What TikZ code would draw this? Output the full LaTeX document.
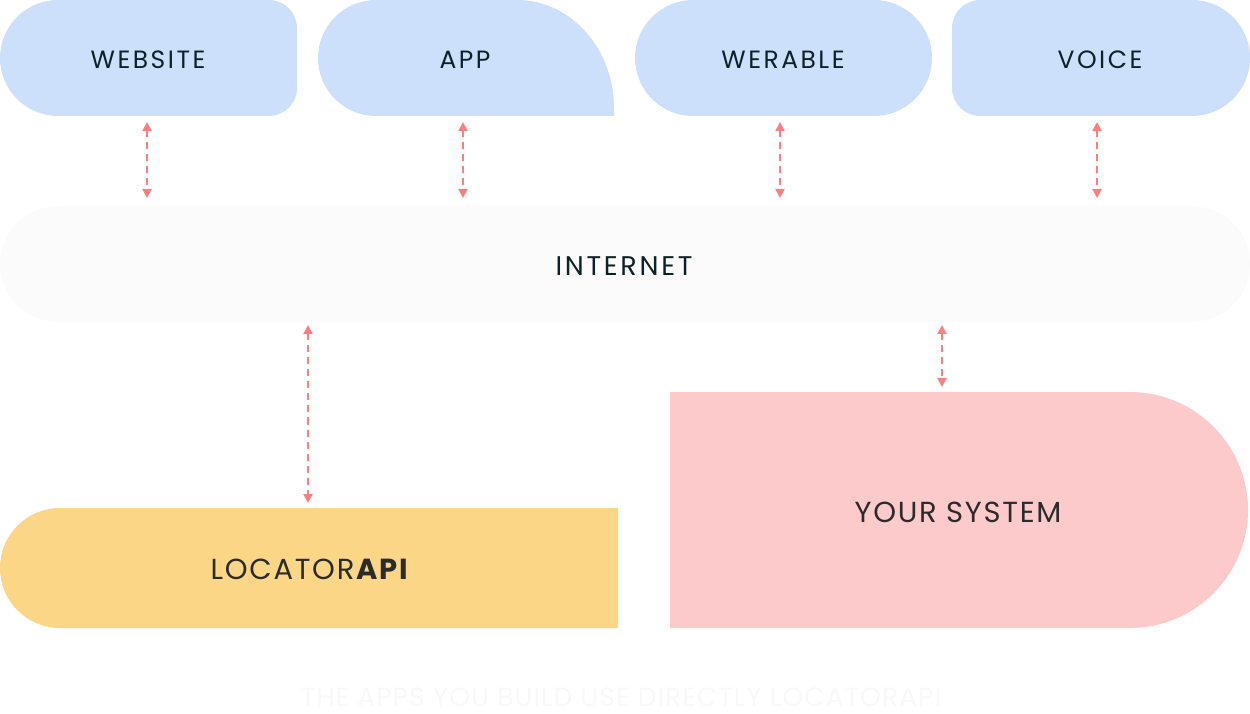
\documentclass[tikz,border=0pt]{standalone}
\usepackage{fontspec}
\setmainfont{Poppins}
\usetikzlibrary{arrows.meta}
\definecolor{bluebox}{HTML}{CCDFFB}
\definecolor{pinkbox}{HTML}{FDCACC}
\definecolor{yellowbox}{HTML}{FBD687}
\definecolor{netbox}{HTML}{FBFBFB}
\definecolor{arrowc}{HTML}{FF7F7F}
\definecolor{tdark}{HTML}{0D2228}
\definecolor{tgray}{HTML}{2D2A2A}
\definecolor{faint}{HTML}{F8F8F8}
\tikzset{
  lbl/.style={text=tdark, font=\fontsize{25}{29}\selectfont\addfontfeatures{LetterSpace=10}, inner sep=0pt},
  netlbl/.style={text=tdark, font=\fontsize{27}{31}\selectfont\addfontfeatures{LetterSpace=10}, inner sep=0pt},
  lbl2/.style={text=tgray, font=\fontsize{29}{33}\selectfont\addfontfeatures{LetterSpace=6}, inner sep=0pt},
  conn/.style={draw=arrowc, line width=2pt, dash pattern=on 7pt off 5pt, {Triangle[length=9pt,width=9pt]}-{Triangle[length=9pt,width=9pt]}}
}
\begin{document}
\begin{tikzpicture}[x=1pt,y=1pt]
\useasboundingbox (0,0) rectangle (1250,713);
\clip (0,0) rectangle (1250,713);
% top boxes
\fill[bluebox] (58,713) -- (269,713) arc[start angle=90,end angle=0,radius=28pt] -- (297,625) arc[start angle=0,end angle=-90,radius=28pt] -- (58,597) arc[start angle=270,end angle=90,radius=58pt] -- cycle;
\fill[bluebox] (376,713) -- (517,713) arc[start angle=90,end angle=0,x radius=97pt,y radius=108pt] -- (614,597) -- (376,597) arc[start angle=270,end angle=90,radius=58pt] -- cycle;
\fill[bluebox] (693,713) -- (874,713) arc[start angle=90,end angle=-90,radius=58pt] -- (693,597) arc[start angle=270,end angle=90,radius=58pt] -- cycle;
\fill[bluebox] (980,713) -- (1192,713) arc[start angle=90,end angle=-90,radius=58pt] -- (980,597) arc[start angle=270,end angle=180,radius=28pt] -- (952,685) arc[start angle=180,end angle=90,radius=28pt] -- cycle;
% internet
\fill[netbox] (58,507) -- (1192,507) arc[start angle=90,end angle=-90,radius=58pt] -- (58,391) arc[start angle=270,end angle=90,radius=58pt] -- cycle;
% locator
\fill[yellowbox] (60,205) -- (618,205) -- (618,85) -- (60,85) arc[start angle=270,end angle=90,radius=60pt] -- cycle;
% your system
\fill[pinkbox] (670,321) -- (1130,321) arc[start angle=90,end angle=-90,radius=118pt] -- (670,85) -- cycle;
% labels
\node[lbl] (web) at (148,653) {WEBSITE};
\node[lbl] (app) at (465,653) {APP};
\node[lbl] (wear) at (783,653) {WERABLE};
\node[lbl] (voice) at (1100,653) {VOICE};
\node[netlbl] (net) at (624,447) {INTERNET};
\node[lbl2] (loc) at (310,144) {LOCATOR\textbf{API}};
\node[lbl2] (sys) at (958,201) {YOUR SYSTEM};
\node[text=faint, anchor=base, inner sep=0pt, font=\fontsize{26.5}{30}\selectfont\addfontfeatures{LetterSpace=4}] (tag) at (621,7) {THE APPS YOU BUILD USE DIRECTLY LOCATORAPI};
% connector ends
\coordinate (a1) at (147,591); \coordinate (b1) at (147,515);
\coordinate (a2) at (463,591); \coordinate (b2) at (463,515);
\coordinate (a3) at (780,591); \coordinate (b3) at (780,515);
\coordinate (a4) at (1097,591); \coordinate (b4) at (1097,515);
\coordinate (c1) at (308,388); \coordinate (d1) at (308,210);
\coordinate (c2) at (942,388); \coordinate (d2) at (942,326);
\draw[conn] (a1) -- (b1);
\draw[conn] (a2) -- (b2);
\draw[conn] (a3) -- (b3);
\draw[conn] (a4) -- (b4);
\draw[conn] (c1) -- (d1);
\draw[conn] (c2) -- (d2);
\end{tikzpicture}
\end{document}
